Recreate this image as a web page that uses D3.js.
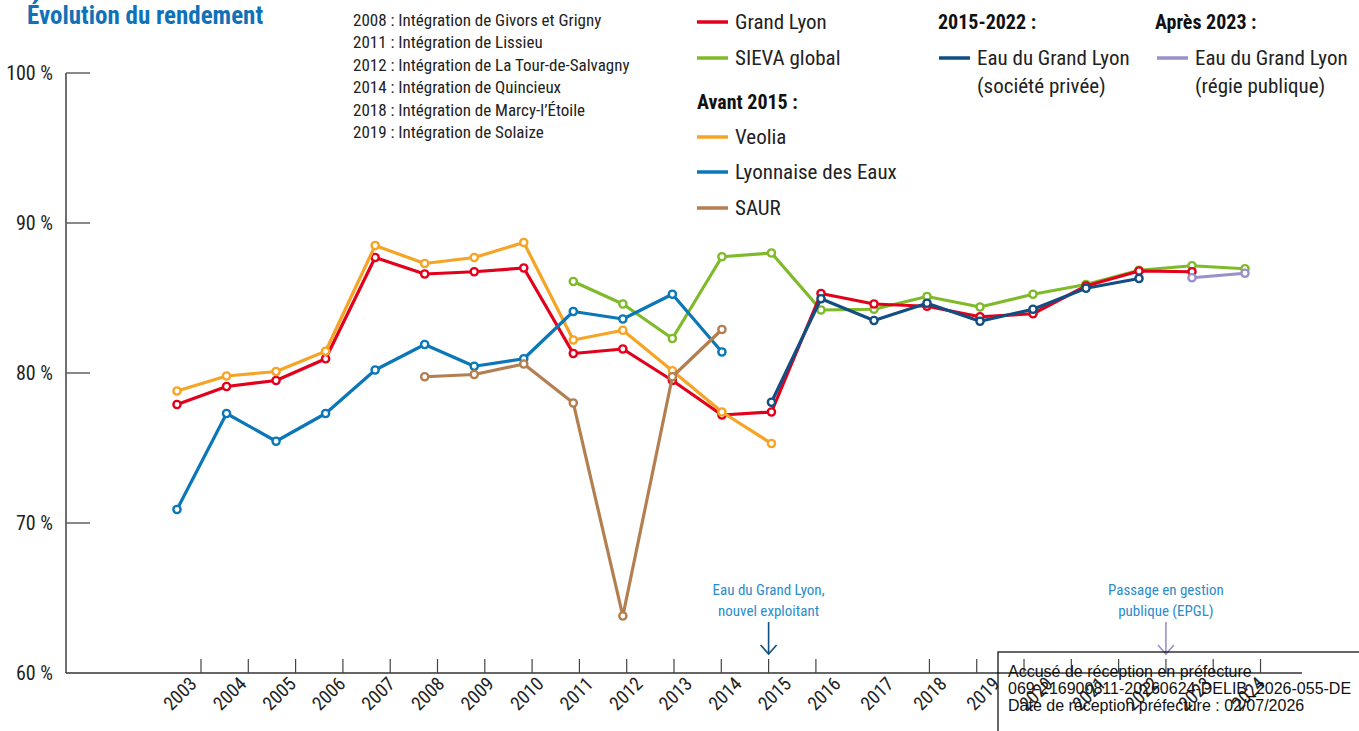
<html>

<head>
  <meta charset="utf-8">
  <title>Évolution du rendement</title>
  <script src="https://d3js.org/d3.v7.min.js"></script>
  <style>
    body {
      margin: 0;
      background: #fff;
    }

    .narrow {
      font-family: "Roboto Condensed", "Liberation Sans Narrow", "Arial Narrow", "DejaVu Sans Condensed", sans-serif;
      font-stretch: condensed;
    }
  </style>
</head>

<body>
  <svg id="chart" width="1359" height="731"></svg>

  <script>
    // années (axe x)
    const years = d3.range(2003, 2025);

    // rendement (%) par exploitant, null = pas de donnée
    const grandLyon = [77.9, 79.1, 79.5, 80.95, 87.7, 86.6, 86.75, 87.0, 81.3, 81.6, 79.5, 77.2,
      77.4, 85.3, 84.6, 84.45, 83.75, 83.95, 85.8, 86.8, 86.75, null];
    const sievaGlobal = [null, null, null, null, null, null, null, null, 86.1, 84.6, 82.3, 87.75,
      88.0, 84.2, 84.25, 85.1, 84.4, 85.25, 85.9, 86.85, 87.15, 86.95];
    const veolia = [78.8, 79.8, 80.1, 81.45, 88.5, 87.3, 87.7, 88.7, 82.2, 82.85, 80.15, 77.4,
      75.3, null, null, null, null, null, null, null, null, null];
    const lyonnaise = [70.9, 77.3, 75.45, 77.3, 80.2, 81.9, 80.45, 80.95, 84.1, 83.6, 85.25, 81.4,
      null, null, null, null, null, null, null, null, null, null];
    const saur = [null, null, null, null, null, 79.75, 79.9, 80.6, 78.0, 63.8, 79.75, 82.9,
      null, null, null, null, null, null, null, null, null, null];
    const eauPrivee = [null, null, null, null, null, null, null, null, null, null, null, null,
      78.05, 84.95, 83.5, 84.65, 83.45, 84.25, 85.65, 86.3, null, null];
    const eauPublique = [null, null, null, null, null, null, null, null, null, null, null, null,
      null, null, null, null, null, null, null, null, 86.35, 86.65];

    const yTicks = [100, 90, 80, 70, 60];

    // repères de l'axe x (positions des petites graduations, en "pas")
    const axisSlots = [0, 1, 2, 3, 4, 5, 6, 7, 8, 9, 10, 11, 12, 13, 15.4, 16.4, 17.4, 18.4, 19.4, 20.4, 21.4, 22.4];

    const notes = [
      "2008 : Intégration de Givors et Grigny",
      "2011 : Intégration de Lissieu",
      "2012 : Intégration de La Tour-de-Salvagny",
      "2014 : Intégration de Quincieux",
      "2018 : Intégration de Marcy-l’Étoile",
      "2019 : Intégration de Solaize"
    ];

    const annotations = [
      { slot: 12, lines: ["Eau du Grand Lyon,", "nouvel exploitant"], arrow: "#124e82" },
      { slot: 20.4, lines: ["Passage en gestion", "publique (EPGL)"], arrow: "#9b90c9" }
    ];

    const stampLines = [
      "Accusé de réception en préfecture",
      "069-216900811-20260624-DELIB_2026-055-DE",
      "Date de réception préfecture : 02/07/2026"
    ];

    const series = [
      { name: "SIEVA global", values: sievaGlobal, color: "#7fba2b" },
      { name: "Grand Lyon", values: grandLyon, color: "#e2001a" },
      { name: "Veolia", values: veolia, color: "#f6a425" },
      { name: "Lyonnaise des Eaux", values: lyonnaise, color: "#0a77b8" },
      { name: "SAUR", values: saur, color: "#b47f50" },
      { name: "Eau du Grand Lyon (société privée)", values: eauPrivee, color: "#124e82" },
      { name: "Eau du Grand Lyon (régie publique)", values: eauPublique, color: "#9b90c9" }
    ];
    const colorOf = name => series.find(s => s.name === name).color;

    const svg = d3.select("#chart");

    const x = d3.scaleLinear().domain([2003, 2016, 2024]).range([177, 821, 1245]);
    const y = d3.scaleLinear().domain([60, 100]).range([673, 73]);
    const slotX = d3.scaleLinear().domain([0, 1]).range([201, 248.3]);

    // titre
    svg.append("text")
      .attr("class", "narrow")
      .attr("x", 27)
      .attr("y", 24)
      .attr("fill", "#0f72b8")
      .attr("font-size", 25)
      .attr("font-weight", "bold")
      .text("Évolution du rendement");

    // notes
    svg.append("g")
      .attr("class", "narrow")
      .selectAll("text")
      .data(notes)
      .join("text")
      .attr("x", 353)
      .attr("y", (d, i) => 26 + i * 22.4)
      .attr("font-size", 17)
      .attr("fill", "#222")
      .text(d => d);

    // axe y
    const axisColor = "#333";
    svg.append("line")
      .attr("x1", 66).attr("x2", 66)
      .attr("y1", y(100)).attr("y2", y(60))
      .attr("stroke", axisColor).attr("stroke-width", 1.4);

    svg.append("g")
      .selectAll("line")
      .data(yTicks.filter(d => d > 60))
      .join("line")
      .attr("x1", 66).attr("x2", 90)
      .attr("y1", d => y(d)).attr("y2", d => y(d))
      .attr("stroke", "#555").attr("stroke-width", 1.4);

    svg.append("g")
      .attr("class", "narrow")
      .selectAll("text")
      .data(yTicks)
      .join("text")
      .attr("x", 53)
      .attr("y", d => y(d) + 7)
      .attr("text-anchor", "end")
      .attr("font-size", 20)
      .attr("fill", "#222")
      .text(d => d + " %");

    // axe x
    svg.append("line")
      .attr("x1", 66).attr("x2", 1302)
      .attr("y1", y(60)).attr("y2", y(60))
      .attr("stroke", axisColor).attr("stroke-width", 1.4);

    svg.append("g")
      .selectAll("line")
      .data(axisSlots)
      .join("line")
      .attr("x1", d => slotX(d)).attr("x2", d => slotX(d))
      .attr("y1", y(60) - 14).attr("y2", y(60))
      .attr("stroke", "#444").attr("stroke-width", 1.2);

    svg.append("g")
      .attr("class", "narrow")
      .selectAll("text")
      .data(years)
      .join("text")
      .attr("transform", d => `translate(${x(d) + 21},${y(60) + 12}) rotate(-45)`)
      .attr("text-anchor", "end")
      .attr("font-size", 19)
      .attr("fill", "#222")
      .text(d => d);

    // courbes
    const line = d3.line()
      .defined(d => d.v !== null)
      .x(d => x(d.year))
      .y(d => y(d.v));

    series.forEach(s => {
      const pts = years.map((yr, i) => ({ year: yr, v: s.values[i] }));
      const g = svg.append("g");
      g.append("path")
        .datum(pts)
        .attr("d", line)
        .attr("fill", "none")
        .attr("stroke", s.color)
        .attr("stroke-width", 3.2)
        .attr("stroke-linejoin", "round");
      g.selectAll("circle")
        .data(pts.filter(d => d.v !== null))
        .join("circle")
        .attr("cx", d => x(d.year))
        .attr("cy", d => y(d.v))
        .attr("r", 3.6)
        .attr("fill", "#fff")
        .attr("stroke", s.color)
        .attr("stroke-width", 2.4);
    });

    // légende
    const legend = svg.append("g").attr("class", "narrow");
    const legendItems = [
      { x: 697, y: 22, label: ["Grand Lyon"], key: "Grand Lyon" },
      { x: 697, y: 58, label: ["SIEVA global"], key: "SIEVA global" },
      { x: 697, y: 102, head: "Avant 2015 :" },
      { x: 697, y: 137, label: ["Veolia"], key: "Veolia" },
      { x: 697, y: 172, label: ["Lyonnaise des Eaux"], key: "Lyonnaise des Eaux" },
      { x: 697, y: 208, label: ["SAUR"], key: "SAUR" },
      { x: 938, y: 22, head: "2015-2022 :" },
      { x: 939, y: 58, label: ["Eau du Grand Lyon", "(société privée)"], key: "Eau du Grand Lyon (société privée)" },
      { x: 1155, y: 22, head: "Après 2023 :" },
      { x: 1157, y: 58, label: ["Eau du Grand Lyon", "(régie publique)"], key: "Eau du Grand Lyon (régie publique)" }
    ];

    legendItems.forEach(it => {
      if (it.head) {
        legend.append("text")
          .attr("x", it.x).attr("y", it.y + 7)
          .attr("font-size", 20).attr("font-weight", "bold")
          .attr("fill", "#111")
          .text(it.head);
        return;
      }
      legend.append("line")
        .attr("x1", it.x).attr("x2", it.x + 31)
        .attr("y1", it.y).attr("y2", it.y)
        .attr("stroke", colorOf(it.key)).attr("stroke-width", 3.5);
      it.label.forEach((l, i) => {
        legend.append("text")
          .attr("x", it.x + 38).attr("y", it.y + 7 + i * 28)
          .attr("font-size", 21)
          .attr("fill", "#222")
          .text(l);
      });
    });

    // annotations
    annotations.forEach(a => {
      const ax = slotX(a.slot);
      const g = svg.append("g");
      a.lines.forEach((l, i) => {
        g.append("text")
          .attr("class", "narrow")
          .attr("x", ax).attr("y", 595 + i * 21)
          .attr("text-anchor", "middle")
          .attr("font-size", 15)
          .attr("fill", "#2a8ccb")
          .text(l);
      });
      g.append("line")
        .attr("x1", ax).attr("x2", ax)
        .attr("y1", 622).attr("y2", 654)
        .attr("stroke", a.arrow).attr("stroke-width", 1.6);
      g.append("path")
        .attr("d", `M${ax - 8},${645} L${ax},${654} L${ax + 8},${645}`)
        .attr("fill", "none")
        .attr("stroke", a.arrow).attr("stroke-width", 1.6);
    });

    // tampon de réception
    svg.append("rect")
      .attr("x", 998).attr("y", 652)
      .attr("width", 400).attr("height", 120)
      .attr("fill", "none")
      .attr("stroke", "#000").attr("stroke-width", 1.2);

    svg.append("g")
      .selectAll("text")
      .data(stampLines)
      .join("text")
      .attr("x", 1008)
      .attr("y", (d, i) => 677 + i * 17)
      .attr("font-family", "'Liberation Sans', Arial, sans-serif")
      .attr("font-size", 16)
      .attr("fill", "#111")
      .text(d => d);
  </script>
</body>

</html>
